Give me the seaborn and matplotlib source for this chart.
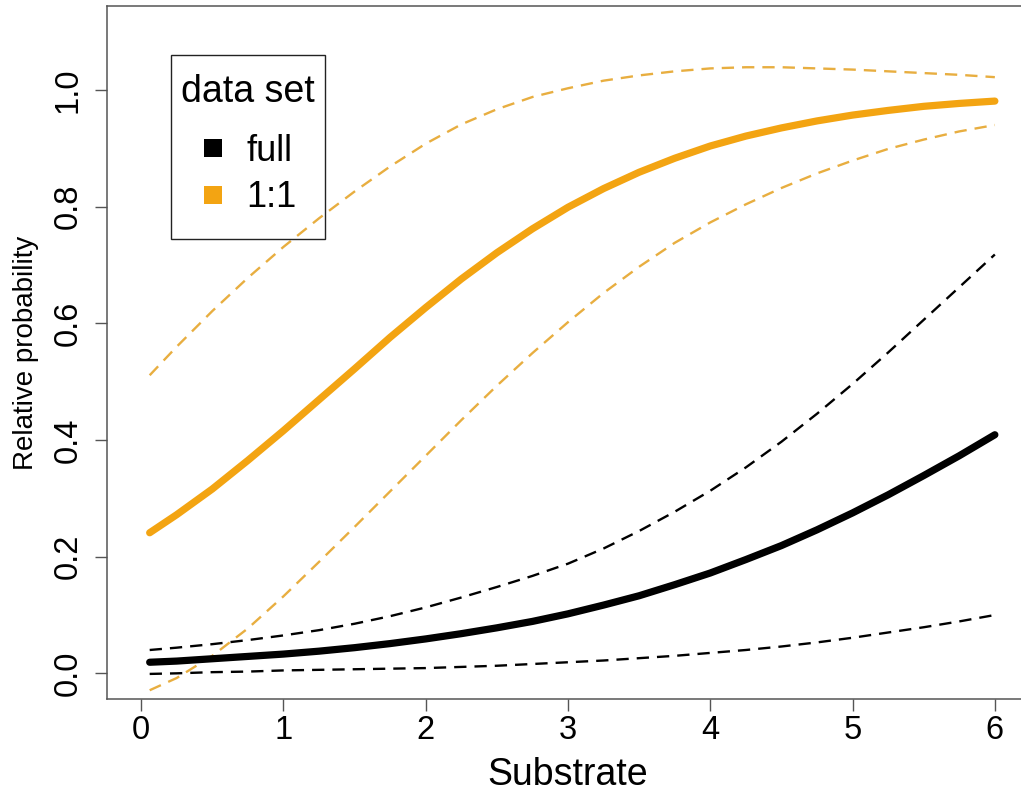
import matplotlib
matplotlib.use("Agg")
import matplotlib.pyplot as plt
from matplotlib.patches import Rectangle
import pandas as pd
import seaborn as sns

# Substrate values at which the fitted curves are evaluated
substrate = [0.06, 0.25, 0.5, 0.75, 1.0, 1.25, 1.5, 1.75, 2.0, 2.25, 2.5, 2.75,
             3.0, 3.25, 3.5, 3.75, 4.0, 4.25, 4.5, 4.75, 5.0, 5.25, 5.5, 5.75, 6.0]

# "full" data set: fitted probability and confidence band
full_fit = [0.019, 0.021, 0.025, 0.029, 0.033, 0.038, 0.044, 0.051, 0.059, 0.068,
            0.078, 0.089, 0.102, 0.117, 0.133, 0.152, 0.172, 0.195, 0.219, 0.246,
            0.275, 0.306, 0.339, 0.373, 0.409]
full_upper = [0.040, 0.044, 0.050, 0.057, 0.065, 0.074, 0.085, 0.098, 0.113, 0.130,
              0.148, 0.167, 0.188, 0.214, 0.244, 0.277, 0.313, 0.353, 0.397, 0.445,
              0.496, 0.550, 0.606, 0.662, 0.718]
full_lower = [-0.001, 0.000, 0.002, 0.003, 0.005, 0.006, 0.007, 0.008, 0.009, 0.011,
              0.013, 0.016, 0.019, 0.022, 0.026, 0.030, 0.035, 0.040, 0.046, 0.053,
              0.061, 0.070, 0.079, 0.089, 0.100]

# "1:1" data set: fitted probability and confidence band
ratio_fit = [0.241, 0.272, 0.316, 0.365, 0.416, 0.469, 0.522, 0.576, 0.627, 0.676,
             0.721, 0.762, 0.799, 0.831, 0.859, 0.883, 0.904, 0.921, 0.935, 0.947,
             0.957, 0.965, 0.972, 0.977, 0.981]
ratio_upper = [0.511, 0.560, 0.621, 0.678, 0.731, 0.780, 0.826, 0.869, 0.908, 0.941,
               0.967, 0.988, 1.003, 1.016, 1.025, 1.032, 1.037, 1.039, 1.039, 1.037,
               1.035, 1.032, 1.029, 1.026, 1.022]
ratio_lower = [-0.029, -0.008, 0.030, 0.077, 0.132, 0.191, 0.251, 0.312, 0.373, 0.434,
               0.493, 0.549, 0.602, 0.652, 0.697, 0.738, 0.773, 0.804, 0.832, 0.857,
               0.879, 0.899, 0.915, 0.929, 0.940]

legend_title = "data set"
legend_labels = ["full", "1:1"]
x_ticks = [0, 1, 2, 3, 4, 5, 6]
y_ticks = [0.0, 0.2, 0.4, 0.6, 0.8, 1.0]

BLACK = "#000000"
ORANGE = "#F3A412"
ORANGE_DASH = "#E8AE40"
FRAME = "#555555"

sns.set_style("white")
plt.rcParams["font.family"] = ["Liberation Sans", "DejaVu Sans"]
plt.rcParams["text.color"] = "black"
plt.rcParams["axes.labelcolor"] = "black"

fig = plt.figure(figsize=(10.21, 7.93), dpi=100)
ax = fig.add_axes([107 / 1021, 94 / 793, 922 / 1021, 693 / 793])

df = pd.DataFrame({
    "Substrate": substrate,
    "full_fit": full_fit, "full_upper": full_upper, "full_lower": full_lower,
    "ratio_fit": ratio_fit, "ratio_upper": ratio_upper, "ratio_lower": ratio_lower,
})

dash = (0, (5.2, 3.4))
for col, color in [("ratio_upper", ORANGE_DASH), ("ratio_lower", ORANGE_DASH),
                   ("full_upper", BLACK), ("full_lower", BLACK)]:
    sns.lineplot(data=df, x="Substrate", y=col, ax=ax, color=color,
                 linewidth=1.7, linestyle=dash, estimator=None, errorbar=None)

for col, color in [("ratio_fit", ORANGE), ("full_fit", BLACK)]:
    sns.lineplot(data=df, x="Substrate", y=col, ax=ax, color=color,
                 linewidth=5.2, solid_capstyle="round", solid_joinstyle="round",
                 estimator=None, errorbar=None)

ax.set_xlim(-0.24, 6.24)
ax.set_ylim(-0.044, 1.144)
ax.set_xticks(x_ticks)
ax.set_xticklabels([str(t) for t in x_ticks])
ax.set_yticks(y_ticks)
ax.set_yticklabels([f"{t:.1f}" for t in y_ticks])

for side in ["left", "bottom", "top", "right"]:
    ax.spines[side].set_visible(True)
    ax.spines[side].set_color(FRAME)
    ax.spines[side].set_linewidth(1.1)

ax.tick_params(axis="both", direction="out", length=8.6, width=1.0, color=FRAME,
               labelsize=23.5, labelcolor="black")
ax.tick_params(axis="x", pad=3, bottom=True)
ax.tick_params(axis="y", pad=8, left=True)
plt.setp(ax.get_yticklabels(), rotation=90, va="center", ha="right")

ax.set_xlabel("Substrate", fontsize=27, labelpad=8, color="black")
ax.set_ylabel("Relative probability", fontsize=20, labelpad=10, color="black")

# Legend box (transparent background, square keys) in axes coordinates
def ax_x(px):
    return (px - 107) / 922

def ax_y(py):
    return (699 - py) / 693

ax.add_patch(Rectangle((ax_x(171), ax_y(239)), ax_x(325) - ax_x(171),
                       ax_y(55) - ax_y(239), transform=ax.transAxes,
                       facecolor="none", edgecolor="#222222", linewidth=1.0,
                       zorder=6, clip_on=False))
ax.text(ax_x(248), ax_y(102), legend_title, transform=ax.transAxes,
        fontsize=27, ha="center", va="baseline", color="black", zorder=7)
for label, color, key_y, text_y in [(legend_labels[0], BLACK, 148, 161),
                                    (legend_labels[1], ORANGE, 195, 207)]:
    ax.plot([ax_x(213)], [ax_y(key_y)], marker="s", markersize=12.5,
            markeredgewidth=0, color=color, linestyle="none",
            transform=ax.transAxes, zorder=7, clip_on=False)
    ax.text(ax_x(246), ax_y(text_y), label, transform=ax.transAxes,
            fontsize=26, ha="left", va="baseline", color="black", zorder=7)

fig.savefig("out.png", dpi=100)
